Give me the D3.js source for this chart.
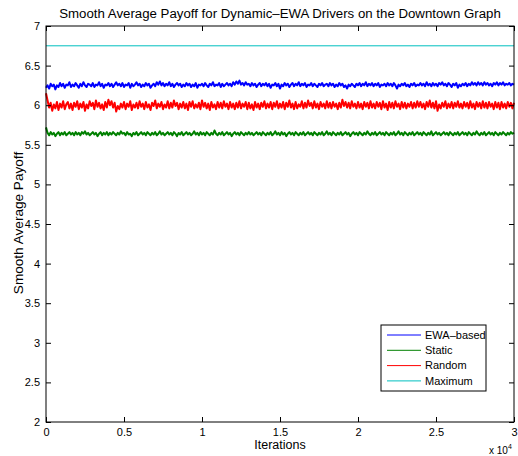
<!DOCTYPE html>
<html>
<head>
<meta charset="utf-8">
<script src="https://cdn.jsdelivr.net/npm/d3@7"></script>
<style>
  body { margin: 0; background: #fff; }
  text { font-family: "Liberation Sans", Arial, sans-serif; }
</style>
</head>
<body>
<svg id="chart" width="518" height="456"></svg>
<script>
// iterations, one sample every 100 steps
const iterations = d3.range(0, 30001, 100);

const ewaBased = [
  6.22,6.25,6.21,6.27,6.24,6.26,6.20,6.25,6.23,6.28,
  6.24,6.27,6.22,6.26,6.25,6.29,6.23,6.26,6.24,6.28,
  6.25,6.22,6.27,6.24,6.29,6.25,6.23,6.27,6.26,6.24,
  6.28,6.23,6.26,6.25,6.29,6.24,6.27,6.22,6.26,6.25,
  6.28,6.24,6.27,6.23,6.26,6.29,6.25,6.27,6.24,6.28,
  6.23,6.26,6.25,6.28,6.22,6.27,6.24,6.26,6.29,6.25,
  6.27,6.23,6.26,6.24,6.28,6.25,6.27,6.22,6.25,6.27,
  6.24,6.29,6.26,6.30,6.25,6.28,6.24,6.27,6.25,6.29,
  6.24,6.27,6.23,6.26,6.28,6.25,6.27,6.23,6.26,6.24,
  6.28,6.25,6.27,6.23,6.26,6.24,6.28,6.22,6.26,6.25,
  6.27,6.24,6.28,6.25,6.23,6.27,6.25,6.29,6.24,6.26,
  6.25,6.28,6.23,6.27,6.24,6.26,6.28,6.25,6.27,6.24,
  6.29,6.26,6.30,6.27,6.31,6.26,6.28,6.25,6.29,6.26,
  6.27,6.24,6.28,6.25,6.27,6.23,6.26,6.28,6.24,6.27,
  6.25,6.28,6.24,6.27,6.22,6.26,6.25,6.28,6.24,6.27,
  6.21,6.26,6.24,6.28,6.25,6.27,6.23,6.26,6.28,6.24,
  6.27,6.25,6.29,6.24,6.27,6.25,6.28,6.23,6.26,6.25,
  6.28,6.24,6.27,6.25,6.23,6.27,6.25,6.28,6.24,6.26,
  6.27,6.24,6.28,6.25,6.27,6.23,6.26,6.24,6.28,6.25,
  6.27,6.23,6.25,6.21,6.26,6.24,6.27,6.25,6.23,6.27,
  6.25,6.28,6.24,6.27,6.25,6.29,6.24,6.27,6.25,6.28,
  6.24,6.27,6.25,6.28,6.23,6.26,6.25,6.27,6.24,6.28,
  6.25,6.27,6.24,6.28,6.25,6.21,6.26,6.24,6.27,6.25,
  6.28,6.24,6.26,6.23,6.27,6.25,6.28,6.24,6.26,6.25,
  6.28,6.25,6.27,6.24,6.29,6.25,6.27,6.24,6.28,6.25,
  6.27,6.24,6.28,6.26,6.29,6.25,6.27,6.24,6.28,6.26,
  6.23,6.27,6.25,6.28,6.22,6.26,6.24,6.27,6.25,6.28,
  6.24,6.27,6.25,6.29,6.26,6.28,6.25,6.29,6.26,6.28,
  6.25,6.29,6.26,6.28,6.25,6.27,6.24,6.28,6.26,6.29,
  6.25,6.28,6.26,6.29,6.25,6.27,6.26,6.28,6.25,6.27,
  6.26];

const staticVals = [
  5.72,5.65,5.62,5.66,5.63,5.65,5.61,5.64,5.66,5.62,
  5.65,5.63,5.66,5.62,5.64,5.66,5.63,5.65,5.62,5.66,
  5.63,5.65,5.62,5.66,5.64,5.67,5.63,5.65,5.62,5.64,
  5.66,5.63,5.65,5.61,5.64,5.66,5.62,5.65,5.63,5.66,
  5.62,5.65,5.63,5.66,5.64,5.62,5.65,5.63,5.67,5.64,
  5.65,5.62,5.66,5.63,5.64,5.61,5.65,5.63,5.66,5.62,
  5.64,5.66,5.63,5.65,5.62,5.66,5.64,5.62,5.65,5.63,
  5.66,5.62,5.64,5.67,5.63,5.65,5.62,5.64,5.66,5.63,
  5.65,5.62,5.66,5.64,5.61,5.65,5.63,5.66,5.62,5.64,
  5.66,5.63,5.65,5.62,5.64,5.67,5.63,5.65,5.62,5.66,
  5.63,5.65,5.62,5.66,5.64,5.62,5.65,5.63,5.68,5.64,
  5.62,5.65,5.63,5.66,5.62,5.64,5.66,5.63,5.65,5.61,
  5.64,5.66,5.63,5.65,5.62,5.66,5.64,5.62,5.65,5.63,
  5.66,5.63,5.65,5.62,5.64,5.66,5.63,5.65,5.62,5.66,
  5.64,5.62,5.65,5.63,5.66,5.62,5.64,5.67,5.63,5.65,
  5.62,5.66,5.63,5.65,5.61,5.64,5.66,5.63,5.65,5.62,
  5.66,5.64,5.62,5.65,5.63,5.66,5.62,5.64,5.66,5.63,
  5.65,5.62,5.66,5.64,5.62,5.65,5.63,5.66,5.62,5.64,
  5.67,5.63,5.65,5.62,5.66,5.64,5.62,5.65,5.63,5.66,
  5.62,5.64,5.66,5.63,5.65,5.61,5.64,5.66,5.63,5.65,
  5.62,5.66,5.64,5.62,5.65,5.63,5.67,5.64,5.62,5.65,
  5.63,5.66,5.62,5.64,5.66,5.63,5.65,5.62,5.66,5.64,
  5.62,5.65,5.63,5.66,5.62,5.64,5.67,5.63,5.65,5.62,
  5.66,5.64,5.62,5.65,5.63,5.66,5.62,5.64,5.66,5.63,
  5.65,5.62,5.66,5.64,5.62,5.65,5.63,5.67,5.62,5.64,
  5.66,5.63,5.65,5.62,5.64,5.66,5.63,5.65,5.62,5.66,
  5.64,5.62,5.65,5.63,5.66,5.62,5.64,5.66,5.63,5.65,
  5.62,5.66,5.64,5.62,5.65,5.63,5.67,5.64,5.62,5.65,
  5.63,5.66,5.62,5.64,5.66,5.63,5.65,5.62,5.66,5.64,
  5.62,5.65,5.63,5.66,5.64,5.62,5.65,5.63,5.66,5.64,
  5.65];

const randomVals = [
  6.15,6.06,5.97,6.03,5.93,6.01,5.96,6.04,5.94,6.02,
  5.97,6.05,5.95,6.01,6.04,5.96,6.02,5.94,6.03,5.98,
  6.05,5.95,6.02,5.97,6.04,5.93,6.01,5.96,6.05,5.99,
  6.03,5.95,6.06,5.98,6.03,5.96,6.01,5.94,6.04,5.97,
  6.07,6.00,6.05,5.97,6.03,5.92,5.99,5.95,6.02,5.97,
  6.04,5.95,6.02,5.98,6.05,5.94,6.01,5.97,6.03,5.96,
  6.05,5.98,6.02,5.95,6.04,5.97,6.01,5.94,6.03,5.99,
  6.06,5.96,6.02,5.98,6.04,5.95,6.01,5.97,6.05,5.96,
  6.03,5.97,6.06,5.99,6.03,5.95,6.02,5.97,6.04,5.96,
  6.02,5.94,6.04,5.98,6.05,5.96,6.01,5.97,6.03,5.95,
  6.06,5.98,6.03,5.96,6.02,5.94,6.04,5.97,6.01,5.95,
  6.04,5.97,6.03,5.96,6.05,5.98,6.02,5.95,6.04,5.97,
  6.02,5.95,6.03,5.97,6.05,5.96,6.02,5.98,6.04,5.95,
  6.03,5.96,6.01,5.94,6.04,5.97,6.02,5.95,6.03,5.98,
  6.05,5.96,6.02,5.97,6.04,5.95,6.03,5.98,6.05,5.96,
  6.02,5.97,6.04,5.95,6.03,5.98,6.06,5.97,6.02,5.95,
  6.04,5.96,6.01,5.98,6.05,5.96,6.03,5.97,6.06,5.99,
  6.03,5.96,6.05,5.97,6.02,5.95,6.04,5.98,6.02,5.96,
  6.05,5.97,6.03,5.96,6.04,5.98,6.02,5.95,6.03,5.97,
  6.07,5.99,6.04,5.97,6.03,5.96,6.05,5.98,6.02,5.96,
  6.04,5.97,6.02,5.95,6.04,5.98,6.03,5.96,6.05,5.97,
  6.02,5.96,6.04,5.98,6.03,5.95,6.05,5.97,6.02,5.94,
  6.04,5.97,6.03,5.96,6.05,5.98,6.02,5.95,6.04,5.97,
  6.03,5.96,6.02,5.98,6.04,5.96,6.03,5.97,6.05,5.98,
  6.04,5.97,6.02,5.95,6.04,5.98,6.06,5.97,6.03,5.96,
  6.05,5.93,6.01,5.96,6.03,5.98,6.05,5.96,6.02,5.97,
  6.04,5.96,6.03,5.98,6.05,5.97,6.02,5.96,6.04,5.98,
  6.03,5.96,6.05,5.97,6.02,5.95,6.04,5.98,6.03,5.96,
  6.05,5.97,6.03,5.96,6.04,5.98,6.02,5.95,6.04,5.97,
  6.03,5.95,6.04,5.97,6.02,5.96,6.04,5.98,6.03,5.96,
  6.03];

const maxIterations = [0, 30000];
const maximumVals = [6.75, 6.75];

const xTicks = [0, 5000, 10000, 15000, 20000, 25000, 30000];
const yTicks = [2, 2.5, 3, 3.5, 4, 4.5, 5, 5.5, 6, 6.5, 7];

const seriesNames = ["EWA–based", "Static", "Random", "Maximum"];
const seriesColors = ["#0000ff", "#008000", "#ff0000", "#00bfbf"];

var svg = d3.select("#chart"),
    margin = { top: 26, left: 46, bottom: 34, right: 4 },
    width = +svg.attr("width"),
    height = +svg.attr("height");

var x = d3.scaleLinear()
    .domain([0, 30000])
    .range([margin.left, width - margin.right]);

var y = d3.scaleLinear()
    .domain([2, 7])
    .range([height - margin.bottom, margin.top]);

var line = d3.line()
    .x(d => x(d[0]))
    .y(d => y(d[1]));

// Lines
var series = [
    d3.zip(iterations, ewaBased),
    d3.zip(iterations, staticVals),
    d3.zip(iterations, randomVals),
    d3.zip(maxIterations, maximumVals)
];

svg.append("g")
    .selectAll("path")
    .data(series)
    .enter().append("path")
    .attr("d", line)
    .attr("fill", "none")
    .attr("stroke", (d, i) => seriesColors[i])
    .attr("stroke-width", (d, i) => i === 3 ? 1 : 2)
    .attr("stroke-linejoin", "round");

// Axes (ticks point inward, MATLAB style)
svg.append("g")
    .attr("transform", `translate(0,${y(2)})`)
    .call(d3.axisBottom(x).tickValues(xTicks).tickSizeInner(-5).tickSizeOuter(0).tickPadding(6)
        .tickFormat(d => d / 10000));

svg.append("g")
    .attr("transform", `translate(0,${y(7)})`)
    .call(d3.axisTop(x).tickValues(xTicks).tickSizeInner(-5).tickSizeOuter(0).tickFormat(""));

svg.append("g")
    .attr("transform", `translate(${x(0)},0)`)
    .call(d3.axisLeft(y).tickValues(yTicks).tickSizeInner(-5).tickSizeOuter(0).tickPadding(6)
        .tickFormat(d => d));

svg.append("g")
    .attr("transform", `translate(${x(30000)},0)`)
    .call(d3.axisRight(y).tickValues(yTicks).tickSizeInner(-5).tickSizeOuter(0).tickFormat(""));

svg.selectAll(".domain").remove();
svg.selectAll(".tick line").attr("stroke", "#000");
svg.selectAll(".tick text")
    .attr("font-size", "11px")
    .attr("fill", "#000")
    .style("font-family", "Liberation Sans, Arial, sans-serif");

// axes box
svg.append("rect")
    .attr("x", x(0))
    .attr("y", y(7))
    .attr("width", x(30000) - x(0))
    .attr("height", y(2) - y(7))
    .attr("fill", "none")
    .attr("stroke", "#000")
    .attr("stroke-width", 1);

// Title
svg.append("text")
    .attr("x", (x(0) + x(30000)) / 2)
    .attr("y", 18)
    .attr("text-anchor", "middle")
    .attr("font-size", "13.25px")
    .text("Smooth Average Payoff for Dynamic–EWA Drivers on the Downtown Graph");

// X Axis Label
svg.append("text")
    .attr("x", (x(0) + x(30000)) / 2)
    .attr("y", 449)
    .attr("text-anchor", "middle")
    .attr("font-size", "12.5px")
    .text("Iterations");

// exponent
var expo = svg.append("text")
    .attr("x", 489)
    .attr("y", 454)
    .attr("font-size", "10px");
expo.append("tspan").text("x 10");
expo.append("tspan").attr("dy", -5).attr("font-size", "7px").text("4");

// Y Axis Label
svg.append("text")
    .attr("transform", `translate(23,${(y(2) + y(7)) / 2 - 1}) rotate(-90)`)
    .attr("text-anchor", "middle")
    .attr("font-size", "13.6px")
    .text("Smooth Average Payoff");

// Legend
var legend = svg.append("g").attr("transform", "translate(381,325)");

legend.append("rect")
    .attr("width", 105)
    .attr("height", 66)
    .attr("fill", "#fff")
    .attr("stroke", "#000")
    .attr("stroke-width", 1);

var items = legend.selectAll(".legend")
    .data(seriesNames)
    .enter().append("g")
    .attr("class", "legend")
    .attr("transform", (d, i) => `translate(0,${10 + i * 15.3})`);

items.append("line")
    .attr("x1", 6)
    .attr("x2", 40)
    .attr("stroke", (d, i) => seriesColors[i])
    .attr("stroke-width", 1);

items.append("text")
    .attr("x", 44)
    .attr("dy", "0.35em")
    .attr("font-size", "11px")
    .text(d => d);
</script>
</body>
</html>
